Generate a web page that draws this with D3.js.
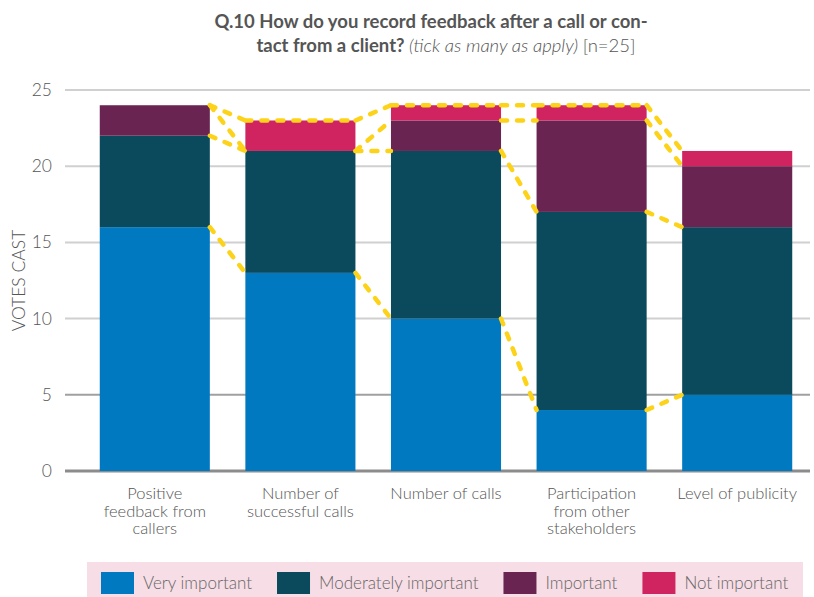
<!DOCTYPE html>
<html lang="en">
<head>
<meta charset="UTF-8">
<title>Q.10 feedback</title>
<style>
body { margin: 0; background: #fff; }
text { font-family: Lato, "Open Sans", sans-serif; }
.tick-label { font-size: 17.5px; font-weight: 300; fill: #555; }
.cat-label { font-size: 16.5px; font-weight: 300; fill: #555; }
.series-line { fill: none; stroke: #fdd319; stroke-width: 4.5px; stroke-linecap: round; stroke-dasharray: 6, 10; }
</style>
</head>
<body>
<script src="https://cdn.jsdelivr.net/npm/d3@7"></script>
<script>
// data
var categories = [
    ["Positive", "feedback from", "callers"],
    ["Number of", "successful calls"],
    ["Number of calls"],
    ["Participation", "from other", "stakeholders"],
    ["Level of publicity"]
];
var seriesNames = ["Very important", "Moderately important", "Important", "Not important"];
var veryImportant = [16, 13, 10, 4, 5];
var moderatelyImportant = [6, 8, 11, 13, 11];
var important = [2, 0, 2, 6, 4];
var notImportant = [0, 2, 1, 1, 1];
var yTicks = [0, 5, 10, 15, 20, 25];
var colors = ["#0079c1", "#0b4a5c", "#6a2452", "#cf2460"];
// bars whose top also carries the dashed line across it
var topLineOnBar = [false, true, true, true, false];

var width = 814, height = 597;

var svg = d3.select("body").append("svg")
    .attr("width", width)
    .attr("height", height);

var x = d3.scaleBand()
    .domain(d3.range(categories.length))
    .range([82, 810])
    .paddingInner(0.244)
    .paddingOuter(0.122);

var y = d3.scaleLinear().domain([0, 25]).range([471, 90]);

// table for stacking
var rows = categories.map(function(c, i) {
    return { i: i, v0: veryImportant[i], v1: moderatelyImportant[i], v2: important[i], v3: notImportant[i] };
});
var stack = d3.stack().keys(["v0", "v1", "v2", "v3"]);
var stacked = stack(rows);

// title
var title = svg.append("text")
    .attr("text-anchor", "middle")
    .style("font-size", "18.5px")
    .style("fill", "#555");
title.append("tspan")
    .attr("x", 431).attr("y", 28)
    .style("font-weight", "700")
    .text("Q.10 How do you record feedback after a call or con-");
var t2 = title.append("tspan").attr("x", 446).attr("y", 52);
t2.append("tspan").style("font-weight", "700").text("tact from a client? ");
t2.append("tspan").style("font-weight", "300").style("font-style", "italic").text("(tick as many as apply) ");
t2.append("tspan").style("font-weight", "300").text("[n=25]");

// grid
var grid = svg.append("g");
grid.selectAll("line")
    .data(yTicks)
    .enter().append("line")
    .attr("x1", 65).attr("x2", 810)
    .attr("y1", function(d) { return y(d); })
    .attr("y2", function(d) { return y(d); })
    .style("stroke", function(d) { return d === 0 ? "#8c8c8c" : (d === 5 ? "#a0a0a0" : "#d0d0d0"); })
    .style("stroke-width", function(d) { return d === 0 ? 3 : 2; });

svg.append("g").selectAll("text")
    .data(yTicks)
    .enter().append("text")
    .attr("class", "tick-label")
    .attr("x", 52)
    .attr("y", function(d) { return y(d) + 6; })
    .attr("text-anchor", "end")
    .text(function(d) { return d; });

svg.append("text")
    .attr("transform", "translate(25," + y(12.5) + ") rotate(-90)")
    .attr("text-anchor", "middle")
    .style("font-size", "17.5px")
    .style("font-weight", "300")
    .style("fill", "#555")
    .text("VOTES CAST");

// bars
svg.append("g").selectAll("g")
    .data(stacked)
    .enter().append("g")
    .attr("fill", function(d, k) { return colors[k]; })
    .selectAll("rect")
    .data(function(d) { return d; })
    .enter().append("rect")
    .attr("x", function(d) { return x(d.data.i); })
    .attr("width", x.bandwidth())
    .attr("y", function(d) { return y(d[1]); })
    .attr("height", function(d) { return y(d[0]) - y(d[1]); });

// series lines between bars
var line = d3.line().x(function(p) { return p[0]; }).y(function(p) { return p[1]; });
var segs = [];
stacked.forEach(function(s) {
    for (var i = 0; i < s.length - 1; i++) {
        segs.push([[x(i) + x.bandwidth(), y(s[i][1])], [x(i + 1), y(s[i + 1][1])]]);
    }
});
var topSeries = stacked[stacked.length - 1];
topSeries.forEach(function(d, i) {
    if (topLineOnBar[i]) segs.push([[x(i), y(d[1])], [x(i) + x.bandwidth(), y(d[1])]]);
});
svg.append("g").selectAll("path")
    .data(segs)
    .enter().append("path")
    .attr("class", "series-line")
    .attr("d", line);

// category labels
var cat = svg.append("g").selectAll("text")
    .data(categories)
    .enter().append("text")
    .attr("class", "cat-label")
    .attr("text-anchor", "middle");
cat.selectAll("tspan")
    .data(function(d, i) { return d.map(function(t) { return { t: t, i: i }; }); })
    .enter().append("tspan")
    .attr("x", function(d) { return x(d.i) + x.bandwidth() / 2; })
    .attr("y", function(d, j) { return 499 + j * 17.5; })
    .text(function(d) { return d.t; });

// legend
svg.append("rect")
    .attr("x", 87).attr("y", 562)
    .attr("width", 716).attr("height", 35)
    .attr("fill", "#f7dde5");

var legend = svg.append("g");
var lx = 101;
seriesNames.forEach(function(name, k) {
    legend.append("rect")
        .attr("x", lx).attr("y", 572)
        .attr("width", 33).attr("height", 22)
        .attr("fill", colors[k]);
    var tx = legend.append("text")
        .attr("x", lx + 42).attr("y", 589)
        .style("font-size", "17px")
        .style("font-weight", "300")
        .style("fill", "#666")
        .text(name);
    lx += 42 + tx.node().getComputedTextLength() + 25;
});
</script>
</body>
</html>
